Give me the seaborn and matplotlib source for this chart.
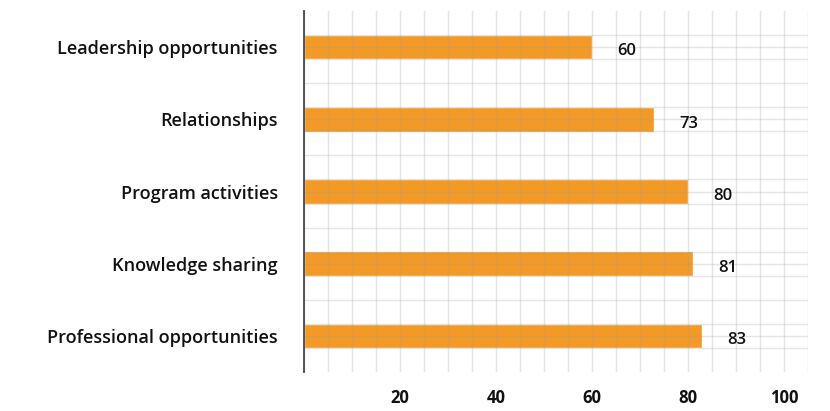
import numpy as np
import matplotlib
matplotlib.use("Agg")
import matplotlib.pyplot as plt
import seaborn as sns
from matplotlib.ticker import MultipleLocator, FixedLocator

# ===== DATA =====
categories = [
    "Leadership opportunities",
    "Relationships",
    "Program activities",
    "Knowledge sharing",
    "Professional opportunities",
]
scores = [60, 73, 80, 81, 83]
x_ticks = [20, 40, 60, 80, 100]

BAR_COLOR = "#F39925"

sns.set_style("white")
plt.rcParams["font.family"] = ["Open Sans", "DejaVu Sans"]

fig = plt.figure(figsize=(8.3, 4.11), dpi=100)
ax = fig.add_axes([0.3663, 0.0949, 0.6072, 0.8783])

sns.barplot(x=scores, y=categories, orient="h", color=BAR_COLOR,
            saturation=1, width=0.34, ax=ax, zorder=1)

ax.set_xlim(0, 105)
ax.set_ylim(4.5, -0.5)

# grid: vertical every 5, horizontal every third of a category
ax.xaxis.set_minor_locator(MultipleLocator(5))
ax.yaxis.set_minor_locator(FixedLocator([-0.5 + k / 3 for k in range(1, 15)]))
ax.set_xticks(x_ticks)
ax.grid(which="both", axis="both", color="#a0a0a0", alpha=0.28,
        linewidth=1.0, zorder=2)
ax.set_axisbelow(False)

for s in ["top", "right", "bottom"]:
    ax.spines[s].set_visible(False)
ax.spines["left"].set_color("#444444")
ax.spines["left"].set_linewidth(1.3)
ax.spines["left"].set_zorder(3)

ax.tick_params(which="both", length=0)
ax.tick_params(axis="x", pad=12, labelsize=12)
ax.tick_params(axis="y", pad=19, labelsize=13)
for lbl in ax.get_xticklabels():
    lbl.set_fontweight("bold")
    lbl.set_color("#111111")
for lbl in ax.get_yticklabels():
    lbl.set_fontweight("semibold")
    lbl.set_color("#111111")

for i, v in enumerate(scores):
    ax.text(v + 5.2, i + 0.06, f"{v}", va="center", ha="left",
            fontsize=12, fontweight="semibold", color="#111111")

ax.set_xlabel("")
ax.set_ylabel("")

fig.savefig("out.png", dpi=100)
